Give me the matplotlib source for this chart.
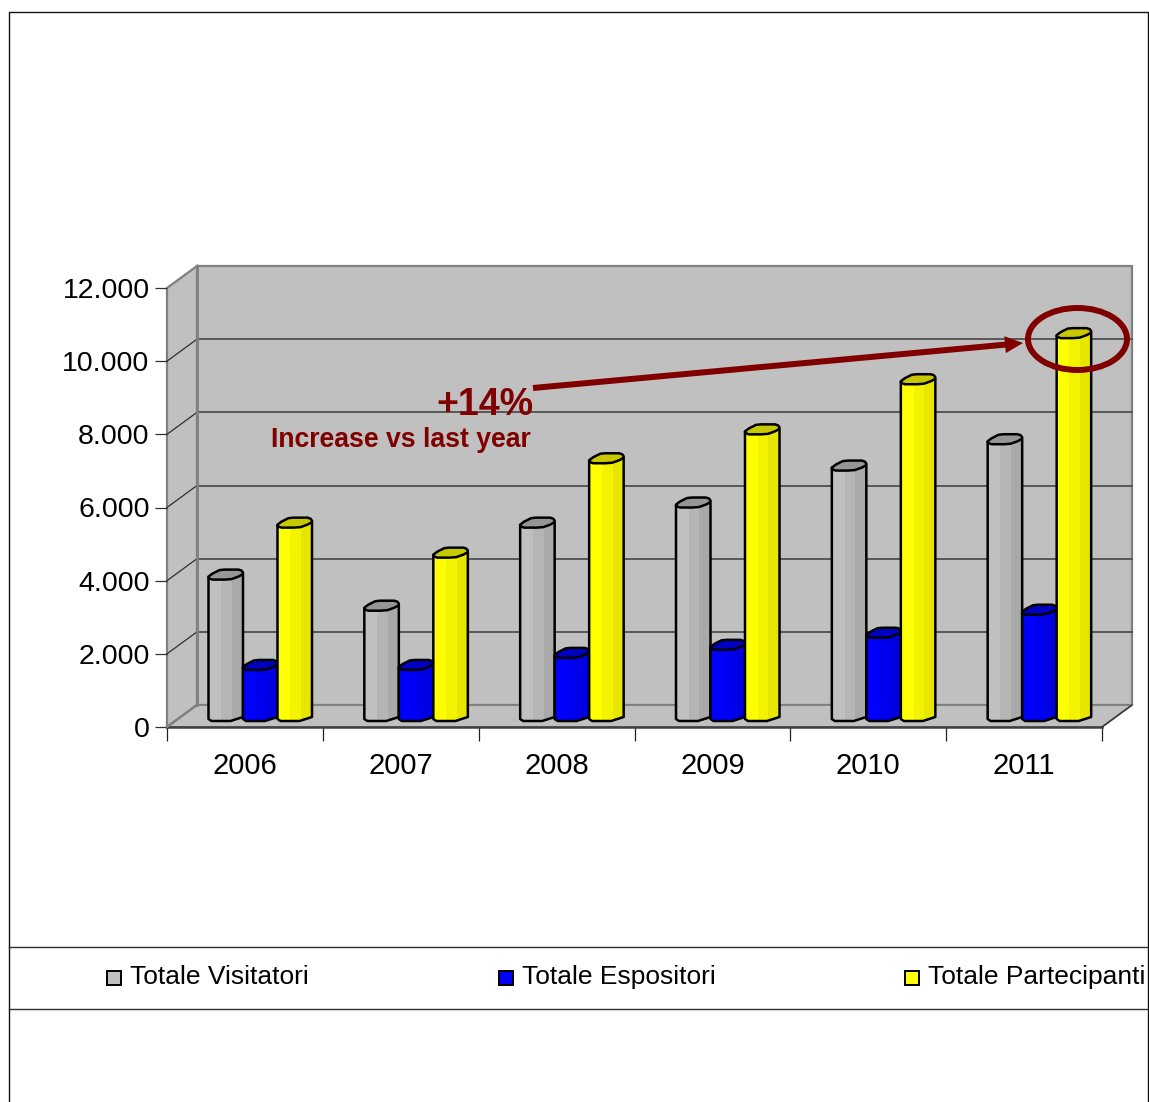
import matplotlib
matplotlib.use('Agg')
import matplotlib.pyplot as plt
from matplotlib.patches import Polygon, Rectangle, Ellipse, FancyArrow
from matplotlib.lines import Line2D

plt.rcParams['font.family'] = ['Liberation Sans', 'DejaVu Sans']

years = ['2006', '2007', '2008', '2009', '2010', '2011']
visitatori = [3920, 3070, 5340, 5890, 6900, 7620]
espositori = [1450, 1450, 1780, 2000, 2330, 2960]
partecipanti = [5340, 4520, 7100, 7890, 9260, 10520]
y_ticks = [0, 2000, 4000, 6000, 8000, 10000, 12000]
y_labels = ['0', '2.000', '4.000', '6.000', '8.000', '10.000', '12.000']
series_names = ['Totale Visitatori', 'Totale Espositori', 'Totale Partecipanti']

W, H = 1149, 1102
L, R, T, B = 167, 1102, 288, 727   # front plane of the 3d box, in pixels
PX = 6 / (R - L)          # one pixel in x data units
PY = 12000 / (B - T)      # one pixel in y data units
DX, DY = 30 * PX, 22 * PY  # box depth

# body shades left to right, then the darker cap
GREY = ['#c0c0c0', '#b5b5b5', '#a9a9a9', '#969696']
BLUE = ['#0000ff', '#0000f0', '#0000e0', '#0000c0']
YELLOW = ['#ffff00', '#f3f300', '#e6e600', '#c8c800']
DARKRED = '#800000'

fig = plt.figure(figsize=(W / 100, H / 100), dpi=100)
ax = fig.add_axes([L / W, 1 - B / H, (R - L) / W, (B - T) / H])
ax.set_xlim(0, 6)
ax.set_ylim(0, 12000)
ax.patch.set_visible(False)
for s in ax.spines.values():
    s.set_visible(False)

# walls and floor
wall = '#c0c0c0'
edge = '#808080'
ax.add_patch(Polygon([(DX, DY), (6 + DX, DY), (6 + DX, 12000 + DY), (DX, 12000 + DY)],
                     fc=wall, ec=edge, lw=1.6, clip_on=False, zorder=1))
ax.add_patch(Polygon([(0, 0), (DX, DY), (DX, 12000 + DY), (0, 12000)],
                     fc=wall, ec=edge, lw=1.6, clip_on=False, zorder=1))
ax.add_patch(Polygon([(0, 0), (6, 0), (6 + DX, DY), (DX, DY)],
                     fc=wall, ec=edge, lw=1.4, clip_on=False, zorder=1))
for v in y_ticks[1:-1]:
    ax.plot([DX, 6 + DX], [v + DY, v + DY], color='#505050', lw=1.3, clip_on=False, zorder=2)
    ax.plot([0, DX], [v, v + DY], color='#303030', lw=0.9, clip_on=False, zorder=2)
ax.plot([DX, DX], [DY, 12000 + DY], color=edge, lw=2, clip_on=False, zorder=2)
ax.plot([0, 6], [0, 0], color='#404040', lw=1.8, clip_on=False, zorder=2)
ax.plot([6, 6 + DX], [0, DY], color='#303030', lw=0.9, clip_on=False, zorder=2)
ax.plot([0, DX], [0, DY], color=edge, lw=1.6, clip_on=False, zorder=2)

ax.set_yticks(y_ticks)
ax.set_yticklabels(y_labels, fontsize=20.5)
ax.tick_params(axis='y', length=8.6, width=0.9, color='#303030', pad=4)
ax.set_xticks(range(7))
ax.set_xticklabels([])
ax.tick_params(axis='x', length=10, width=0.9, color='#202020')
ax.set_xticks([i + 0.5 for i in range(6)], minor=True)
ax.set_xticklabels(years, minor=True, fontsize=21)
ax.tick_params(axis='x', which='minor', length=0, pad=18)


def draw_bar(x0, value, shades, width, z):
    x1 = x0 + width
    a = x0 + width * 0.37
    b = x0 + width * 0.68
    y_base = 6 * PY
    top = 7 * PY + value

    # three vertical bands, and the floor shows through the bottom right corner
    body = [(x0, top), (x0, y_base + 2 * PY), (x0 + 3 * PX, y_base), (x0 + 22 * PX, y_base),
            (x1, y_base + 4 * PY), (x1, top + 2 * PY)]
    clip = Polygon(body, transform=ax.transData)
    for xa, xb, i in [(x0, a, 0), (a, b, 1), (b, x1, 2)]:
        r = Rectangle((xa, y_base), xb - xa, top + 2 * PY - y_base, fc=shades[i], ec='none',
                      clip_on=True, zorder=z)
        ax.add_patch(r)
        r.set_clip_path(clip)
    ax.add_patch(Polygon(body, closed=False, fill=False, ec='black', lw=1.8,
                         joinstyle='round', clip_on=False, zorder=z + 0.2))
    # cap
    cap = [(0, 0), (4, 3), (11, 6.5), (16, 7), (30, 7), (33, 6), (34.5, 4), (34.5, 2.5), (30, 0),
           (23, -2.5), (16, -3), (4, -3), (1, -2), (0, -1)]
    pts = [(x0 + px * PX, top + py * PY) for px, py in cap]
    ax.add_patch(Polygon(pts, fc=shades[3], ec='black', lw=1.8, joinstyle='round',
                         clip_on=False, zorder=z + 0.3))


bar_w = 34.5 * PX
start = 41.5 * PX
for i in range(len(years)):
    draw_bar(i + start, visitatori[i], GREY, bar_w, 3)
    draw_bar(i + start + bar_w, espositori[i], BLUE, bar_w, 4)
    draw_bar(i + start + 2 * bar_w, partecipanti[i], YELLOW, bar_w, 5)

# overlays and page furniture live in pixel space
over = fig.add_axes([0, 0, 1, 1])
over.set_xlim(0, W)
over.set_ylim(H, 0)
over.axis('off')
over.patch.set_visible(False)

over.add_line(Line2D([9, 9, 1148, 1148], [H, 12, 12, H], color='#101010', lw=1.0))
over.add_line(Line2D([9, 1148], [947, 947], color='#303030', lw=1.0))
over.add_line(Line2D([9, 1148], [1009, 1009], color='#303030', lw=1.0))

legend_sq = [107, 499, 905]
legend_fc = [GREY[0], BLUE[0], YELLOW[0]]
for name, x, c in zip(series_names, legend_sq, legend_fc):
    over.add_patch(Rectangle((x, 971), 14, 14, fc=c, ec='black', lw=1.4))
    over.text(x + 23, 977, name, fontsize=19, va='center', ha='left', color='black')

over.add_patch(FancyArrow(533, 388, 490, -45, width=6, head_width=17, head_length=18,
                          length_includes_head=True, fc=DARKRED, ec='none'))
over.add_patch(Ellipse((1077.5, 339), 99, 62, fc='none', ec=DARKRED, lw=4.3))
over.text(533, 405, '+14%', fontsize=27, fontweight='bold', color=DARKRED, ha='right', va='center')
over.text(531, 440, 'Increase vs last year', fontsize=19.2, fontweight='bold', color=DARKRED,
          ha='right', va='center')

fig.savefig('out.png', dpi=100, facecolor='white')
